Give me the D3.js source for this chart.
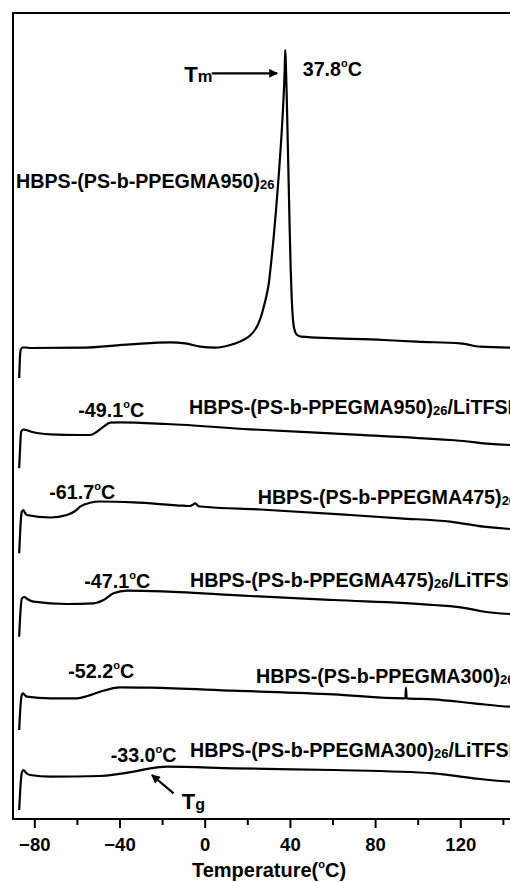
<!DOCTYPE html>
<html>
<head>
<meta charset="utf-8">
<script src="https://cdn.jsdelivr.net/npm/d3@7"></script>
<style>
  html, body { margin: 0; padding: 0; background: #fff; }
  svg { display: block; font-family: "Liberation Sans", Arial, Helvetica, sans-serif; font-weight: bold; }
</style>
</head>
<body>
<svg id="chart" width="510" height="882"></svg>
<script>
// DSC heating traces: [temperature °C, heat flow (a.u., offset per trace)]
const dsc950 = [
  [-87.1, 44.1], [-86.8, 45.9], [-86.4, 46.9], [-85.5, 47.15], [-84, 47.15], [-81.9, 47.1],
  [-58.5, 47.13], [-35, 47.47], [-16.2, 47.67], [-9.2, 47.57], [-2.1, 47.23], [4.9, 47.13],
  [11.97, 47.4], [16.67, 47.75], [20.42, 48.2], [23.24, 48.8], [25.12, 49.5], [26.53, 50.3],
  [27.7, 51.2], [28.87, 52.2], [30.05, 53.5], [31.22, 55.7], [32.39, 58.2], [33.57, 61.1],
  [34.74, 64.3], [35.92, 67.9], [36.85, 71.4], [37.56, 74.9], [37.8, 76.9],
  [38.03, 75.9], [38.5, 72.4], [38.97, 67.9], [39.44, 63.4], [39.91, 58.9], [40.38, 54.9],
  [40.85, 52.1], [41.31, 50.3], [41.78, 49.3], [42.49, 48.7], [43.43, 48.4], [45.31, 48.23],
  [84, 47.9], [99.6, 47.73], [120, 47.57], [129.3, 47.23], [143.4, 47.13], [160, 47.1]
];
const dsc950Li = [
  [-87.1, 35.07], [-86.6, 37.4], [-86.2, 38.7], [-85.2, 38.95], [-83.8, 38.9], [-80.4, 38.67],
  [-72.5, 38.47], [-58.5, 38.4], [-53.8, 38.4], [-50.6, 38.73], [-47.5, 39.23], [-44.4, 39.63],
  [-39.7, 39.67], [-17.7, 39.5], [21.4, 38.97], [68.3, 38.47], [115.3, 37.9], [121.5, 37.8],
  [130.9, 37.57], [143.4, 37.4], [160, 37.35]
];
const dsc475 = [
  [-87.1, 26.57], [-86.6, 28.9], [-85.9, 30.7], [-85.2, 30.9], [-84.3, 30.6], [-83.5, 30.4],
  [-72.5, 30.15], [-64.7, 30.4], [-60.8, 30.8], [-58.5, 31.23], [-53.8, 31.63], [-49.1, 31.75],
  [-33.4, 31.67], [-10, 31.33], [-6.8, 31.3], [-5.4, 31.45], [-4.5, 31.57], [-3.5, 31.4],
  [-2.9, 31.27], [-2.1, 31.25], [26.1, 30.95], [68.3, 30.4], [91.8, 30.07], [115.3, 29.73],
  [130.9, 29.23], [143.4, 29.0], [160, 28.9]
];
const dsc475Li = [
  [-87.1, 18.23], [-86.6, 20.4], [-85.8, 22.07], [-84.7, 22.2], [-83.3, 22.0], [-80.4, 21.73],
  [-64.7, 21.5], [-52.2, 21.57], [-47.5, 21.9], [-42.8, 22.57], [-36.5, 22.83], [21.4, 22.3],
  [60.5, 21.9], [107.4, 21.4], [123.1, 21.07], [129.3, 20.8], [143.4, 20.5], [160, 20.4]
];
const dsc300 = [
  [-87.1, 8.9], [-86.6, 10.9], [-85.9, 12.4], [-85.4, 12.57], [-84.5, 12.4], [-83.5, 12.23],
  [-72.5, 12.07], [-60, 12.07], [-55, 12.3], [-49.1, 12.73], [-39.7, 13.17], [-25.6, 13.13],
  [13.5, 12.83], [60.5, 12.47], [93.3, 12.07], [94.2, 12.08], [94.5, 13.15], [94.8, 12.07],
  [107.4, 11.97], [126.2, 11.57], [143.4, 11.23], [160, 11.15]
];
const dsc300Li = [
  [-87.1, 0.9], [-86.6, 2.9], [-85.9, 4.6], [-85.1, 4.9], [-83.8, 4.6], [-81.9, 4.4],
  [-72.5, 4.23], [-49.1, 4.3], [-33.4, 4.73], [-25.6, 5.07], [-17.7, 5.23], [13.5, 5.07],
  [60.5, 4.9], [107.4, 4.57], [126.2, 4.07], [143.4, 3.73], [160, 3.65]
];

const majorTicks = [-80, -40, 0, 40, 80, 120];
const minorTicks = [-60, -20, 20, 60, 100, 140];
const meltPeak = 37.8;

const svg = d3.select("#chart");
const plotLeft = 13, plotTop = 13, plotBottom = 819, plotRight = 545.5;

const x = d3.scaleLinear().domain([-90, 160]).range([plotLeft, plotRight]);
const y = d3.scaleLinear().domain([0, 80.6]).range([plotBottom, plotTop]);

// frame
svg.append("rect")
  .attr("x", plotLeft).attr("y", plotTop)
  .attr("width", plotRight - plotLeft).attr("height", plotBottom - plotTop)
  .attr("fill", "none").attr("stroke", "#000").attr("stroke-width", 2);

// bottom axis: major ticks with labels, minor ticks without
const axisG = svg.append("g").attr("transform", `translate(0,${plotBottom})`);
axisG.call(d3.axisBottom(x).tickValues(majorTicks).tickSize(9).tickPadding(6).tickFormat(d3.format("d")));
axisG.append("g").call(d3.axisBottom(x).tickValues(minorTicks).tickSize(6).tickFormat(""));
axisG.selectAll(".domain").remove();
axisG.selectAll("line").attr("stroke", "#000").attr("stroke-width", 2);
axisG.selectAll("text").attr("font-size", 18.5).attr("font-weight", "bold")
  .attr("fill", "#000").attr("font-family", "'Liberation Sans', Arial, sans-serif")
  .attr("dy", null).attr("y", 31.5);

// traces
const line = d3.line().x(d => x(d[0])).y(d => y(d[1])).curve(d3.curveMonotoneX);
[dsc950, dsc950Li, dsc475, dsc475Li, dsc300, dsc300Li].forEach(s => {
  svg.append("path").datum(s).attr("d", line)
    .attr("fill", "none").attr("stroke", "#000").attr("stroke-width", 2.2)
    .attr("stroke-linejoin", "round");
});

// text helper: runs of [text, size, dy]
function label(px, py, runs, anchor) {
  const t = svg.append("text").attr("x", px).attr("y", py).attr("fill", "#000")
    .attr("text-anchor", anchor || "start");
  runs.forEach(r => t.append("tspan").attr("font-size", r[1]).attr("dy", r[2] || 0).text(r[0]));
  return t;
}
const F = 19.7, S = 13;
const deg = (v) => [[v, F], ["o", 11, -9], ["C", F, 9]];
const name = (base, tail) => {
  const r = [[base, F], ["26", S, 1]];
  if (tail) r.push([tail, F, -1]);
  return r;
};

// melting peak annotation
label(302.7, 76, deg(meltPeak.toFixed(1)));
label(184.3, 82.3, [["T", 22], ["m", 16.5]]);
const defs = svg.append("defs");
defs.append("marker").attr("id", "head").attr("viewBox", "0 0 10 10")
  .attr("refX", 9).attr("refY", 5).attr("markerWidth", 5).attr("markerHeight", 4)
  .attr("markerUnits", "strokeWidth").attr("orient", "auto")
  .append("path").attr("d", "M0,0 L10,5 L0,10 Z").attr("fill", "#000");
svg.append("line")
  .attr("x1", x(3.3)).attr("y1", y(74.57)).attr("x2", x(meltPeak - 3.8)).attr("y2", y(74.57))
  .attr("stroke", "#000").attr("stroke-width", 2.2).attr("marker-end", "url(#head)");

// sample names
label(16, 188.3, name("HBPS-(PS-b-PPEGMA950)"));
label(189, 414.3, name("HBPS-(PS-b-PPEGMA950)", "/LiTFSI"));
label(257.7, 504, name("HBPS-(PS-b-PPEGMA475)"));
label(190, 586.7, name("HBPS-(PS-b-PPEGMA475)", "/LiTFSI"));
label(256, 683.3, name("HBPS-(PS-b-PPEGMA300)"));
label(190, 757.3, name("HBPS-(PS-b-PPEGMA300)", "/LiTFSI"));

// glass transition values
label(78.3, 417.3, deg("-49.1"));
label(49.3, 499, deg("-61.7"));
label(84.3, 588.3, deg("-47.1"));
label(68.3, 677.7, deg("-52.2"));
label(110.7, 761.7, deg("-33.0"));

// Tg arrow
svg.append("line")
  .attr("x1", x(-14.6)).attr("y1", y(2.57)).attr("x2", x(-24.8)).attr("y2", y(4.4))
  .attr("stroke", "#000").attr("stroke-width", 2.2).attr("marker-end", "url(#head)");
label(181.7, 809.3, [["T", 22], ["g", 16, 1]]);

// axis title
label(269, 877.3, [["Temperature(", 20], ["o", 11, -9], ["C)", 20, 9]], "middle");
</script>
</body>
</html>
